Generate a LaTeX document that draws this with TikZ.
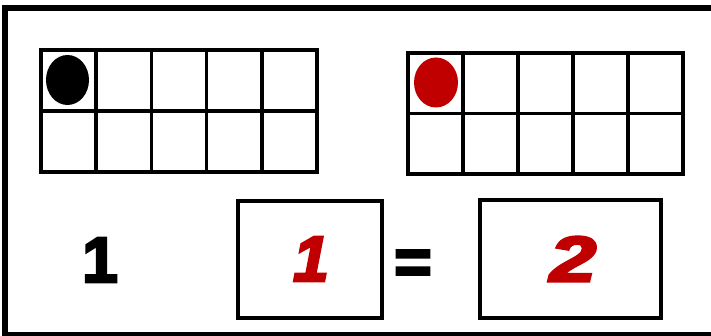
\documentclass[tikz,border=0pt]{standalone}
\usepackage{fontspec}
\usepackage{graphicx}
\setmainfont{Liberation Sans}
\newfontfamily\heavyfont[FakeBold=4]{Liberation Sans Bold}
\newfontfamily\heavyitfont[FakeBold=4]{Liberation Sans Bold Italic}
\definecolor{dotred}{HTML}{C00000}
\begin{document}
\begin{tikzpicture}[x=1pt,y=-1pt,
  frame/.style={line width=6pt},
  gridline/.style={line width=3.5pt},
  answerbox/.style={draw,line width=4pt,minimum width=144pt,minimum height=117pt,inner sep=0pt},
  numtext/.style={font=\fontsize{64}{64}\selectfont\heavyfont,inner sep=0pt},
  rednum/.style={inner sep=0pt,font=\fontsize{64}{64}\selectfont\heavyitfont,text=dotred}]
\useasboundingbox (0,0) rectangle (711,336);
% outer frame (right side lies beyond the picture)
\draw[frame] (720,8.5) -- (5,8.5) -- (5,334.5) -- (720,334.5);
% left ten-frame
\draw[gridline] (41,50) rectangle (317,172);
\foreach \i in {1,2,3,4} \draw[gridline] (41+55.2*\i,50) -- (41+55.2*\i,172);
\draw[gridline] (41,111) -- (317,111);
\fill[black] (67.5,80) ellipse[x radius=21.5,y radius=25];
% right ten-frame
\draw[gridline] (408,53) rectangle (683,174);
\foreach \i in {1,2,3,4} \draw[gridline] (408+55*\i,53) -- (408+55*\i,174);
\draw[gridline] (408,113.5) -- (683,113.5);
\fill[dotred] (436,82.5) ellipse[x radius=22,y radius=25];
% bottom equation
\node[numtext] (one) at (100,260) {1};
\node[answerbox] (boxa) at (310,259.5) {};
\node[rednum] (a) at (311,259) {1};
\node[numtext] (eq) at (413,267) {=};
\node[answerbox,minimum width=181pt,minimum height=118pt] (boxb) at (570.5,259) {};
\node[rednum] (b) at (573,259) {\scalebox{1.3}[1]{2}};
\end{tikzpicture}
\end{document}
